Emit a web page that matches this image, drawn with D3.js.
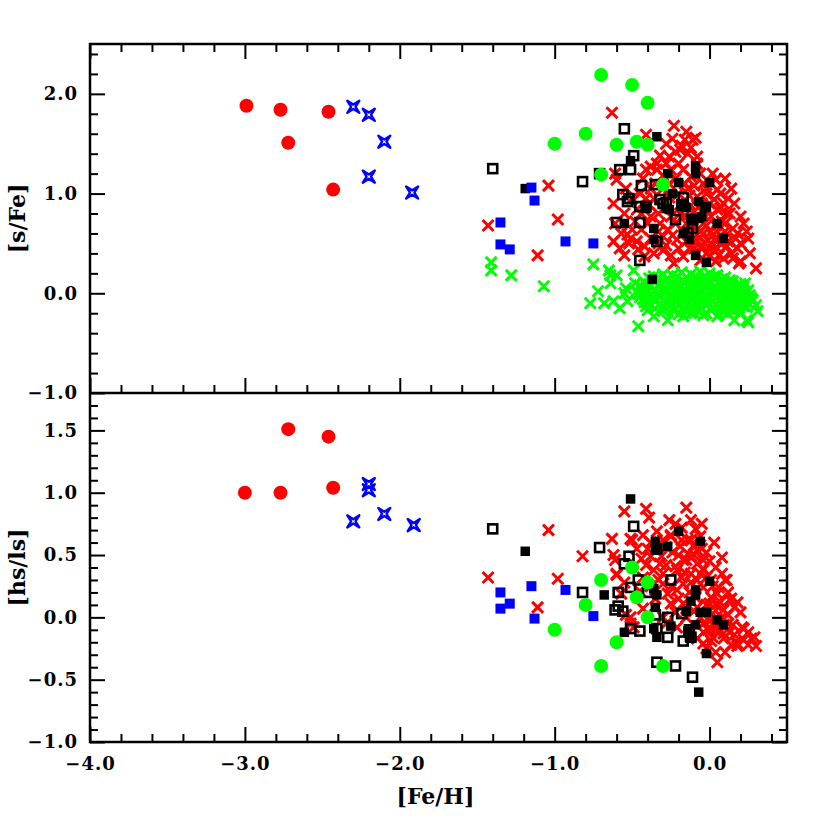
<!DOCTYPE html>
<html>
<head>
<meta charset="utf-8">
<script src="https://cdn.jsdelivr.net/npm/d3@7"></script>
<style>
  body { margin: 0; background: #fff; }
  svg text { font-family: "DejaVu Serif", serif; font-weight: bold; }
</style>
</head>
<body>
<div id="chart"></div>
<script>
// ---- data: [Fe/H], value ----
// top panel [s/Fe]
var redCircTop = [[-2.99,1.88],[-2.77,1.84],[-2.72,1.51],[-2.46,1.82],[-2.43,1.04]]
var blueStarTop = [[-2.30,1.87],[-2.20,1.79],[-2.10,1.52],[-2.20,1.17],[-1.92,1.01]]
var blueSqTop = [[-1.15,1.06],[-1.13,0.93],[-1.35,0.71],[-1.35,0.49],[-1.29,0.44],[-0.93,0.52],[-0.75,0.50]]
var greenCircTop = [[-0.70,2.19],[-0.50,2.09],[-0.40,1.91],[-1.00,1.50],[-0.80,1.60],[-0.60,1.49],
  [-0.47,1.52],[-0.40,1.49],[-0.70,1.19],[-0.30,1.09]]
var openSqTop = [[-1.40,1.25],[-0.55,1.65],[-0.49,1.38],[-0.58,1.24],[-0.51,1.24],[-0.82,1.12],[-0.71,1.20],
  [-0.44,1.08],[-0.35,1.09],[-0.56,0.99],[-0.52,0.95],[-0.53,0.92],[-0.45,0.87],[-0.41,0.87],[-0.30,0.90],
  [-0.17,0.96],[-0.60,0.71],[-0.45,0.71],[-0.22,0.74],[-0.11,0.65],[-0.45,0.33],[-0.34,0.52],[-0.28,0.91],
  [-0.11,0.74],[-0.32,0.94],[-0.18,0.89],[-0.14,0.61]]
var filledSqTop = [[-1.19,1.05],[-0.34,1.57],[-0.51,1.33],[-0.27,1.20],[-0.09,1.28],[-0.09,1.20],[-0.20,1.11],
  [0.00,1.11],[-0.24,1.00],[-0.07,0.92],[-0.02,0.87],[-0.26,0.84],[-0.18,0.87],[-0.12,0.75],[-0.05,0.77],
  [0.05,0.70],[0.09,0.55],[-0.17,0.60],[-0.13,0.54],[-0.36,0.65],[-0.36,0.54],[-0.55,0.70],[-0.09,0.38],
  [-0.02,0.31],[-0.37,0.14],[-0.28,0.85],[-0.03,0.86],[-0.15,0.86],[-0.07,0.75],[-0.41,0.85]]
var redCrossTop = [[-1.43,0.68],[-1.04,1.08],[-0.98,0.74],[-1.11,0.38],[-0.63,1.81],[-0.60,1.14],[-0.61,1.20],
  [-0.62,0.90],[-0.51,0.55],[-0.52,0.50],[-0.61,0.70],[-0.53,0.59],[-0.41,1.59],[-0.23,1.68],[-0.15,1.62],
  [-0.11,1.54],[-0.09,1.56],[-0.16,1.54],[-0.08,1.37],[-0.19,1.44],[-0.22,1.42],[-0.26,1.37],[-0.38,1.27],
  [-0.34,1.24],[-0.41,1.24],[-0.34,1.30],[-0.25,1.24],[-0.17,1.24],[-0.12,1.17],[-0.04,1.10],[-0.02,1.00],
  [-0.08,0.97],[-0.12,0.88],[0.10,1.15],[0.04,1.14],[0.07,1.00],[0.16,0.90],[0.20,0.77],[0.22,0.70],
  [0.25,0.55],[0.18,0.60],[0.05,0.84],[0.05,1.04],[0.03,0.94],[0.01,0.77],[-0.04,0.60],[0.03,0.54],
  [0.07,0.50],[0.10,0.62],[-0.17,0.62],[-0.27,0.64],[-0.32,0.70],[-0.38,0.77],[-0.47,0.84],[-0.50,0.64],
  [-0.39,0.89],[-0.42,0.47],[-0.30,0.43],[-0.17,0.37],[-0.08,0.40],[0.03,0.43],[0.11,0.47],[0.18,0.45],
  [0.20,0.32],[0.30,0.25],[0.19,0.30],[-0.23,0.30],[-0.42,0.37],[-0.30,0.57],[-0.21,0.54],[-0.12,0.60],
  [-0.08,0.77],[-0.04,0.70],[0.01,0.62],[-0.19,0.80],[-0.25,0.77],[-0.35,1.10],[-0.30,1.05],[-0.20,1.00],
  [-0.26,0.96],[-0.33,0.80],[-0.44,0.64],[-0.58,0.45],[-0.55,0.38],[-0.46,0.44],[-0.36,0.40],[-0.13,0.45],
  [-0.03,0.50],[0.00,0.45],[-0.02,0.40],[0.06,0.38],[-0.10,0.52],[-0.06,0.56],[0.02,0.58],[0.12,0.52],
  [0.14,0.40],[0.09,0.35],[-0.28,0.48],[-0.38,0.55],[-0.47,0.52],[-0.15,0.70],[-0.10,0.68],[0.08,0.72],
  [0.13,0.80],[0.15,0.65],[-0.02,0.85],[0.09,0.90],[-0.45,1.00],[-0.36,0.95],[-0.14,1.05],[-0.06,1.20],
  [-0.26,1.10],[-0.43,1.15],[-0.32,1.38],[-0.20,1.30],[-0.14,1.40],[-0.28,1.50],[-0.48,0.72],[-0.55,0.80],
  [-0.62,0.52],[-0.57,0.60],[0.24,0.62],[0.26,0.40],[-0.06,0.33],[0.04,0.32],[-0.13,0.98],[-0.05,0.90],
  [-0.10,0.45],[-0.05,0.48],[0.02,0.48],[0.05,0.45],[-0.01,0.53],[-0.06,0.62],[0.05,0.62],[0.07,0.58],
  [-0.12,0.70],[-0.02,0.68],[0.04,0.68],[0.10,0.70],[0.11,0.80],[0.07,0.85],[0.00,0.90],[-0.05,0.82],
  [-0.10,0.82],[-0.16,0.78],[-0.22,0.70],[-0.24,0.58],[-0.33,0.62],[-0.40,0.70],[-0.44,0.80],[-0.41,0.95],
  [-0.38,1.05],[-0.30,1.18],[-0.22,1.15],[-0.16,1.10],[-0.10,1.08],[-0.02,1.05],[0.02,1.20],[-0.08,1.30],
  [-0.24,1.55],[-0.18,1.48],[-0.12,1.46],[-0.28,1.30],[0.00,0.37],[0.15,0.35],[0.17,0.55],[0.20,0.50],
  [-0.15,0.52],[-0.20,0.45],[-0.25,0.38],[-0.33,0.50],[0.12,0.95],[0.14,1.05],[-0.50,0.95],[-0.54,1.05]]
var greenCrossTop = [[-1.41,0.31],[-1.41,0.23],[-1.28,0.18],[-1.07,0.07],[-0.75,0.29],[-0.65,0.23],[-0.60,0.18],
  [-0.49,0.23],[-0.72,0.02],[-0.77,-0.10],[-0.46,-0.33],[-0.36,-0.23],[-0.27,-0.27],[0.28,-0.07],[0.31,-0.18],
  [0.24,-0.27],[0.16,-0.27],[-0.64,0.10],[-0.54,0.05],[-0.55,0.00],[-0.53,-0.08],[-0.62,-0.08],[-0.68,-0.10],
  [-0.41,-0.13],[-0.48,0.10],[-0.64,0.18],[-0.17,-0.23],[-0.04,-0.22],[0.05,-0.23],[0.25,-0.29],[0.22,-0.13],
  [-0.40,-0.17],[-0.58,-0.15],[0.30,-0.12],[-0.10,-0.20],[-0.30,-0.18],
  // dense group near solar metallicity
  [-0.36,0.17],[-0.30,0.19],[-0.24,0.18],[-0.18,0.21],[-0.12,0.19],[-0.06,0.22],[0.00,0.20],[0.05,0.18],[0.10,0.16],
  [-0.42,0.11],[-0.35,0.13],[-0.29,0.12],[-0.22,0.14],[-0.16,0.11],[-0.10,0.13],[-0.03,0.12],[0.03,0.14],[0.09,0.11],[0.15,0.12],[0.20,0.09],
  [-0.44,0.05],[-0.38,0.07],[-0.31,0.04],[-0.25,0.06],[-0.19,0.07],[-0.13,0.05],[-0.07,0.08],[-0.01,0.06],[0.05,0.05],[0.11,0.07],[0.17,0.04],[0.22,0.06],
  [-0.46,-0.01],[-0.40,0.01],[-0.33,-0.01],[-0.27,0.02],[-0.21,0.00],[-0.15,-0.01],[-0.09,0.01],[-0.03,-0.02],[0.02,0.01],[0.08,-0.01],[0.14,0.00],[0.19,-0.02],[0.24,0.01],
  [-0.43,-0.06],[-0.37,-0.05],[-0.30,-0.07],[-0.24,-0.06],[-0.18,-0.05],[-0.12,-0.07],[-0.06,-0.06],[0.00,-0.05],[0.06,-0.07],[0.12,-0.06],[0.18,-0.05],[0.23,-0.07],[0.27,-0.05],
  [-0.38,-0.12],[-0.32,-0.11],[-0.26,-0.13],[-0.20,-0.12],[-0.14,-0.11],[-0.08,-0.13],[-0.02,-0.12],[0.04,-0.11],[0.10,-0.13],[0.16,-0.12],[0.21,-0.11],
  [-0.30,-0.17],[-0.23,-0.18],[-0.15,-0.17],[-0.07,-0.18],[0.01,-0.17],[0.09,-0.19],[0.16,-0.17],
  [-0.33,0.08],[-0.20,0.03],[-0.05,0.15],[0.07,0.02],[0.12,-0.03],[-0.11,-0.03],[-0.26,-0.02],[-0.40,-0.09],
  [-0.39,0.15],[-0.33,0.16],[-0.27,0.15],[-0.21,0.17],[-0.15,0.16],[-0.09,0.17],[-0.03,0.16],[0.03,0.17],[0.08,0.14],[0.13,0.13],
  [-0.45,0.08],[-0.39,0.09],[-0.32,0.10],[-0.26,0.09],[-0.20,0.10],[-0.13,0.09],[-0.07,0.11],[0.00,0.09],[0.06,0.10],[0.12,0.09],[0.18,0.08],[0.23,0.10],
  [-0.47,0.02],[-0.41,0.04],[-0.35,0.03],[-0.29,0.03],[-0.23,0.04],[-0.17,0.02],[-0.11,0.04],[-0.05,0.03],[0.01,0.03],[0.07,0.04],[0.13,0.03],[0.19,0.02],[0.25,0.03],
  [-0.45,-0.04],[-0.39,-0.03],[-0.32,-0.04],[-0.26,-0.03],[-0.20,-0.04],[-0.14,-0.03],[-0.08,-0.04],[-0.02,-0.03],[0.04,-0.04],[0.10,-0.03],[0.16,-0.04],[0.21,-0.03],[0.26,-0.02],
  [-0.42,-0.09],[-0.35,-0.08],[-0.28,-0.10],[-0.22,-0.09],[-0.16,-0.08],[-0.10,-0.10],[-0.04,-0.09],[0.02,-0.08],[0.08,-0.10],[0.14,-0.09],[0.20,-0.08],[0.25,-0.10],
  [-0.35,-0.15],[-0.29,-0.14],[-0.23,-0.15],[-0.17,-0.14],[-0.11,-0.15],[-0.05,-0.16],[0.02,-0.14],[0.07,-0.15],[0.13,-0.16],[0.19,-0.15],[0.24,-0.14],
  [-0.20,-0.21],[-0.12,-0.20],[-0.02,-0.20],[0.06,-0.21],[0.12,-0.20],[0.20,-0.19]]

// bottom panel [hs/ls]
var redCircBot = [[-3.00,1.00],[-2.77,1.00],[-2.72,1.51],[-2.46,1.45],[-2.43,1.04]]
var blueStarBot = [[-2.20,1.07],[-2.20,1.02],[-2.30,0.77],[-2.10,0.83],[-1.91,0.74]]
var blueSqBot = [[-1.35,0.20],[-1.29,0.11],[-1.35,0.07],[-1.15,0.25],[-1.13,-0.01],[-0.93,0.22],[-0.75,0.01]]
var greenCircBot = [[-0.50,0.40],[-0.70,0.30],[-0.40,0.28],[-0.47,0.16],[-0.80,0.10],[-0.40,0.00],
  [-1.00,-0.10],[-0.60,-0.20],[-0.70,-0.39],[-0.30,-0.39]]
var openSqBot = [[-1.40,0.71],[-0.49,0.73],[-0.71,0.56],[-0.52,0.49],[-0.55,0.43],[-0.34,0.55],[-0.25,0.30],
  [-0.46,0.30],[-0.51,0.24],[-0.82,0.20],[-0.59,0.20],[-0.59,0.09],[-0.56,0.05],[-0.35,0.02],[-0.27,0.00],
  [-0.18,0.03],[-0.51,-0.09],[-0.45,-0.11],[-0.34,-0.09],[-0.27,-0.16],[-0.17,-0.19],[-0.12,-0.16],
  [-0.34,-0.36],[-0.22,-0.39],[-0.11,-0.48],[-0.61,0.06],[-0.40,0.20],[-0.13,-0.10]]
var filledSqBot = [[-0.51,0.95],[-1.19,0.53],[-0.20,0.69],[-0.06,0.61],[-0.27,0.57],[-0.35,0.61],[-0.35,0.54],
  [-0.68,0.18],[-0.34,0.18],[-0.36,0.23],[-0.09,0.22],[-0.12,0.13],[0.00,0.29],[-0.35,0.08],[-0.25,-0.07],
  [-0.06,0.04],[-0.02,0.04],[0.05,-0.02],[0.09,-0.06],[-0.09,-0.06],[-0.36,-0.09],[-0.34,-0.16],[-0.55,-0.12],
  [-0.02,-0.29],[-0.07,-0.60],[-0.13,-0.16],[-0.14,-0.11],[-0.09,0.18],[-0.15,0.05]]
var redCrossBot = [[-1.43,0.32],[-1.04,0.70],[-0.98,0.31],[-1.11,0.08],[-0.82,0.49],[-0.63,0.63],[-0.55,0.85],
  [-0.41,0.87],[-0.39,0.80],[-0.15,0.88],[-0.09,0.71],[-0.34,0.69],[-0.43,0.66],[-0.51,0.63],[-0.62,0.50],
  [-0.61,0.46],[-0.60,0.35],[-0.57,0.19],[-0.43,0.07],[-0.51,-0.05],[-0.41,0.42],[-0.38,0.49],[-0.32,0.43],
  [-0.25,0.66],[-0.19,0.57],[-0.12,0.62],[-0.17,0.46],[-0.12,0.49],[-0.08,0.54],[-0.04,0.38],[0.01,0.30],
  [0.11,0.30],[0.14,0.15],[0.20,0.04],[0.22,-0.09],[0.27,-0.17],[0.30,-0.23],[0.18,-0.23],[0.17,-0.20],
  [0.05,-0.36],[0.09,-0.13],[0.01,-0.19],[-0.04,-0.12],[0.05,-0.02],[0.09,0.06],[0.05,0.19],[0.01,0.16],
  [-0.04,0.24],[-0.17,0.27],[-0.21,0.22],[-0.27,0.19],[-0.25,0.11],[-0.17,0.11],[-0.08,0.08],[-0.30,0.27],
  [-0.30,0.35],[-0.21,0.38],[-0.12,0.35],[-0.08,0.30],[-0.04,0.46],[-0.08,0.43],[0.02,0.03],[0.00,-0.03],
  [-0.04,-0.05],[0.05,-0.07],[0.09,-0.17],[-0.50,0.62],[-0.25,0.65],[-0.14,0.62],[-0.06,0.65],[-0.14,0.51],
  [-0.20,0.50],[-0.22,0.41],[-0.43,0.32],[-0.49,-0.08],[-0.51,0.00],[-0.54,0.02],[-0.22,0.04],[-0.21,-0.08],
  [-0.08,-0.17],[-0.04,-0.21],[0.02,-0.16],[0.04,-0.05],[0.13,0.14],[0.10,0.30],[-0.02,0.32],[-0.04,0.39],
  [-0.15,0.46],[0.21,-0.08],[0.29,-0.16],[0.18,-0.21],[-0.60,0.34],[-0.45,0.21],[-0.38,0.25],[-0.35,0.15],
  [-0.30,0.00],[-0.28,-0.05],[-0.13,0.20],[-0.09,0.16],[0.06,0.24],[0.12,0.02],[0.15,-0.06],[0.10,-0.28],
  [-0.28,0.56],[-0.33,0.58],[-0.10,0.58],[-0.02,0.52],[0.04,0.40],[0.08,0.48],[-0.18,0.72],[-0.26,0.78],
  [-0.47,0.55],[-0.55,0.28],[-0.31,0.49],[-0.16,0.36],[0.00,0.11],[0.07,0.12],[-0.01,-0.10],[0.13,-0.12],
  [-0.02,0.10],[0.04,0.10],[0.08,0.00],[0.12,-0.05],[0.16,-0.14],[0.22,-0.18],[0.25,-0.12],[0.06,-0.12],
  [0.00,-0.08],[-0.06,0.00],[-0.10,0.05],[-0.12,0.28],[-0.18,0.32],[-0.25,0.25],[-0.28,0.42],[-0.24,0.52],
  [-0.18,0.62],[-0.10,0.50],[-0.06,0.35],[0.02,0.25],[0.08,0.35],[0.12,0.20],[0.16,0.08],[0.18,0.12],
  [-0.36,0.38],[-0.40,0.55],[-0.44,0.47],[-0.33,0.30],[-0.20,0.15],[-0.15,0.00],[-0.02,-0.25],[0.04,-0.28],
  [0.14,-0.22],[0.25,-0.22],[-0.05,0.55],[0.00,0.45],[-0.30,0.62],[-0.38,0.60],[-0.22,0.75],[-0.12,0.78],
  [-0.05,0.75],[0.03,0.60]]

// axis setup
var xDomain = [-4.0, 0.5]
var topDomain = [-1.0, 2.5]
var botDomain = [-1.0, 1.8]

var W = 830, H = 830
var left = 90, right = 787
var topY0 = 44, topY1 = 393, botY0 = 393, botY1 = 742

var svg = d3.select('#chart').append('svg')
  .attr('width', W).attr('height', H)

var x = d3.scaleLinear().domain(xDomain).range([left, right])
var yTop = d3.scaleLinear().domain(topDomain).range([topY1, topY0])
var yBot = d3.scaleLinear().domain(botDomain).range([botY1, botY0])

var fmt = d3.format('.1f')
var MAJ = 15, MIN = 8

// tick lists
var xMajor = [-4, -3, -2, -1, 0]
var xMinor = d3.range(-3.8, 0.5, 0.2).map(function(v){ return +v.toFixed(1) })
  .filter(function(v){ return xMajor.indexOf(v) < 0 })
var topMajor = [-1, 0, 1, 2]
var topMinor = d3.range(-0.8, 2.5, 0.2).map(function(v){ return +v.toFixed(1) })
  .filter(function(v){ return topMajor.indexOf(v) < 0 })
var botMajor = [-1, -0.5, 0, 0.5, 1, 1.5]
var botMinor = d3.range(-0.9, 1.8, 0.1).map(function(v){ return +v.toFixed(1) })
  .filter(function(v){ return botMajor.indexOf(v) < 0 })

function styleAxis(g) {
  g.select('.domain').remove()
  g.selectAll('.tick line').attr('stroke', '#000').attr('stroke-width', 2)
  g.selectAll('.tick text').attr('fill', '#000').style('font-size', '18px')
    .style('font-family', '"DejaVu Serif", serif').style('font-weight', 'bold')
    .style('letter-spacing', '1px')
}

function addAxis(axisFn, scale, ticks, size, labels, tx, ty, pad) {
  var a = axisFn(scale).tickValues(ticks).tickSize(-size)
    .tickPadding(pad || 3)
    .tickFormat(labels ? fmt : '')
  svg.append('g').attr('transform', 'translate(' + tx + ',' + ty + ')')
    .call(a).call(styleAxis)
}

// top panel axes
addAxis(d3.axisLeft, yTop, topMajor, MAJ, true, left, 0, 12)
addAxis(d3.axisLeft, yTop, topMinor, MIN, false, left, 0)
addAxis(d3.axisRight, yTop, topMajor, MAJ, false, right, 0)
addAxis(d3.axisRight, yTop, topMinor, MIN, false, right, 0)
addAxis(d3.axisTop, x, xMajor, MAJ, false, 0, topY0)
addAxis(d3.axisTop, x, xMinor, MIN, false, 0, topY0)
addAxis(d3.axisBottom, x, xMajor, MAJ, false, 0, topY1)
addAxis(d3.axisBottom, x, xMinor, MIN, false, 0, topY1)

// bottom panel axes
addAxis(d3.axisLeft, yBot, botMajor, MAJ, true, left, 0, 12)
addAxis(d3.axisLeft, yBot, botMinor, MIN, false, left, 0)
addAxis(d3.axisRight, yBot, botMajor, MAJ, false, right, 0)
addAxis(d3.axisRight, yBot, botMinor, MIN, false, right, 0)
addAxis(d3.axisBottom, x, xMajor, MAJ, true, 0, botY1, 15)
addAxis(d3.axisBottom, x, xMinor, MIN, false, 0, botY1)

// markers
var crossPath = 'M-5.5,-5.5L5.5,5.5M-5.5,5.5L5.5,-5.5'
var starPath = 'M-6,-6L0,-2.2L6,-6L2.2,0L6,6L0,2.2L-6,6L-2.2,0Z'

function plotSet(data, ys, kind) {
  var g = svg.append('g')
  var sel = g.selectAll('.m').data(data).enter()
  if (kind == 'redCross' || kind == 'greenCross') {
    sel.append('path').attr('d', crossPath)
      .attr('transform', function(d){ return 'translate(' + x(d[0]) + ',' + ys(d[1]) + ')' })
      .attr('fill', 'none')
      .attr('stroke', kind == 'redCross' ? '#ff0000' : '#00ff00')
      .attr('stroke-width', 3)
  } else if (kind == 'star') {
    sel.append('path').attr('d', starPath)
      .attr('transform', function(d){ return 'translate(' + x(d[0]) + ',' + ys(d[1]) + ')' })
      .attr('fill', 'none').attr('stroke', '#0000ff').attr('stroke-width', 2.4)
      .attr('stroke-linejoin', 'round')
  } else if (kind == 'openSq') {
    sel.append('rect')
      .attr('x', function(d){ return x(d[0]) - 4.5 }).attr('y', function(d){ return ys(d[1]) - 4.5 })
      .attr('width', 9).attr('height', 9)
      .attr('fill', 'none').attr('stroke', '#000').attr('stroke-width', 2.6)
  } else if (kind == 'fillSq' || kind == 'blueSq') {
    var s = kind == 'blueSq' ? 10 : 9.5
    sel.append('rect')
      .attr('x', function(d){ return x(d[0]) - s/2 }).attr('y', function(d){ return ys(d[1]) - s/2 })
      .attr('width', s).attr('height', s)
      .attr('fill', kind == 'blueSq' ? '#0000ff' : '#000')
  } else {
    sel.append('circle')
      .attr('cx', function(d){ return x(d[0]) }).attr('cy', function(d){ return ys(d[1]) })
      .attr('r', 7)
      .attr('fill', kind == 'redCirc' ? '#ff0000' : '#00ff00')
  }
}

// top
plotSet(redCrossTop, yTop, 'redCross')
plotSet(greenCrossTop, yTop, 'greenCross')
plotSet(openSqTop, yTop, 'openSq')
plotSet(filledSqTop, yTop, 'fillSq')
plotSet(blueSqTop, yTop, 'blueSq')
plotSet(blueStarTop, yTop, 'star')
plotSet(redCircTop, yTop, 'redCirc')
plotSet(greenCircTop, yTop, 'greenCirc')
// bottom
plotSet(redCrossBot, yBot, 'redCross')
plotSet(openSqBot, yBot, 'openSq')
plotSet(filledSqBot, yBot, 'fillSq')
plotSet(blueSqBot, yBot, 'blueSq')
plotSet(blueStarBot, yBot, 'star')
plotSet(redCircBot, yBot, 'redCirc')
plotSet(greenCircBot, yBot, 'greenCirc')

// frames
svg.append('rect').attr('x', left).attr('y', topY0)
  .attr('width', right - left).attr('height', botY1 - topY0)
  .attr('fill', 'none').attr('stroke', '#000').attr('stroke-width', 2.5)
svg.append('line').attr('x1', left).attr('x2', right).attr('y1', topY1).attr('y2', topY1)
  .attr('stroke', '#000').attr('stroke-width', 2.5)

// axis titles
svg.append('text')
  .attr('transform', 'translate(25,' + (topY0 + topY1) / 2 + ') rotate(-90)')
  .attr('text-anchor', 'middle').style('font-size', '22px').text('[s/Fe]')
svg.append('text')
  .attr('transform', 'translate(25,' + (botY0 + botY1) / 2 + ') rotate(-90)')
  .attr('text-anchor', 'middle').style('font-size', '22px').text('[hs/ls]')
svg.append('text')
  .attr('x', (left + right) / 2 - 3).attr('y', 804)
  .attr('text-anchor', 'middle').style('font-size', '22px').text('[Fe/H]')
</script>
</body>
</html>
